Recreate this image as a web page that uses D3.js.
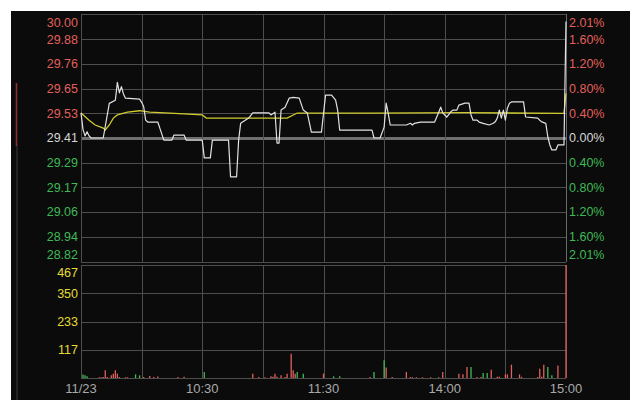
<!DOCTYPE html>
<html>
<head>
<meta charset="utf-8">
<script src="https://cdn.jsdelivr.net/npm/d3@7/dist/d3.min.js"></script>
<style>
  html, body { margin: 0; padding: 0; background: #ffffff; }
  svg { display: block; }
  text { font-family: "Liberation Sans", Arial, sans-serif; }
</style>
</head>
<body>
<svg id="chart" width="641" height="412"></svg>
<script>
// ---------- DATA ----------
const prevClose = 29.41;
const priceTickLabels = ["30.00", "29.88", "29.76", "29.65", "29.53", "29.41", "29.29", "29.17", "29.06", "28.94", "28.82"];
const pctTickLabels   = ["2.01%", "1.60%", "1.20%", "0.80%", "0.40%", "0.00%", "0.40%", "0.80%", "1.20%", "1.60%", "2.01%"];
const pctTickValues   = [2.01, 1.6, 1.2, 0.8, 0.4, 0, -0.4, -0.8, -1.2, -1.6, -2.01];
const volTickLabels   = ["467", "350", "233", "117"];
const volTickValues   = [467, 350, 233, 117];
const timeLabels      = ["11/23", "10:30", "11:30", "14:00", "15:00"];
const timeLabelIdx    = [0, 60, 120, 180, 240];

// price line (minute index, price)
const priceIdx = [0,1,2,3,4,5,11,14,17,18,19,20,21,22,29,30,31,32,33,38,39,41,45,46,51,52,60,61,64,65,73,74,77,78,79,83,85,93,94,96,97,98,99,101,103,105,108,110,112,114,119,121,124,126,127,128,144,145,148,150,151,152,153,161,163,164,165,168,175,177,178,179,181,183,184,186,187,190,192,193,194,196,197,199,202,204,205,206,207,208,209,210,211,212,213,219,220,226,227,228,230,231,232,233,235,236,239,240];
const priceVal = [29.53,29.45,29.42,29.44,29.42,29.41,29.41,29.575,29.59,29.675,29.625,29.655,29.62,29.60,29.595,29.58,29.56,29.495,29.486,29.486,29.457,29.40,29.40,29.424,29.424,29.40,29.40,29.315,29.315,29.40,29.40,29.225,29.225,29.40,29.48,29.505,29.53,29.53,29.52,29.533,29.386,29.386,29.543,29.557,29.60,29.604,29.60,29.543,29.529,29.438,29.438,29.614,29.614,29.59,29.543,29.448,29.448,29.41,29.41,29.462,29.576,29.529,29.472,29.472,29.48,29.472,29.48,29.486,29.486,29.533,29.557,29.53,29.51,29.535,29.543,29.543,29.567,29.576,29.576,29.52,29.495,29.495,29.486,29.48,29.472,29.48,29.487,29.505,29.543,29.505,29.543,29.495,29.552,29.576,29.582,29.582,29.51,29.505,29.495,29.487,29.48,29.416,29.377,29.353,29.353,29.377,29.377,29.965];

// average price line (minute index, price)
const avgIdx = [0,4,7,11,12,14,16,18,23,29,34,44,60,62,102,107,145,190,239,240];
const avgVal = [29.529,29.495,29.472,29.457,29.448,29.472,29.505,29.52,29.533,29.54,29.533,29.529,29.52,29.505,29.505,29.529,29.529,29.531,29.527,29.623];

// volume bars (minute index, volume, direction 1 = up/red, -1 = down/green)
const volIdx = [1,2,3,9,10,11,12,13,15,16,17,18,19,22,23,27,29,31,34,36,38,48,51,61,85,88,91,94,95,96,97,99,101,102,104,105,106,107,110,120,125,128,143,145,150,151,154,161,163,164,166,169,173,177,179,187,189,191,193,196,198,199,201,203,206,207,210,211,213,217,218,226,227,228,229,231,233,236,240];
const volVal = [14,11,7,3,3,4,32,4,11,18,32,18,4,3,3,15,11,4,8,4,6,4,5,25,18,4,3,7,5,18,5,11,4,18,100,32,18,25,18,18,7,7,4,25,73,43,4,25,4,3,3,3,3,3,25,18,15,45,45,4,4,21,21,34,5,5,15,15,55,15,5,4,38,5,55,45,11,52,467];
const volDir = [-1,-1,-1,1,1,1,1,1,1,1,1,1,1,1,1,-1,-1,1,1,1,1,1,1,-1,1,1,1,1,1,1,1,1,1,1,1,1,1,-1,-1,1,-1,-1,1,-1,-1,1,1,1,1,1,1,1,1,1,1,1,1,1,-1,1,1,-1,-1,1,1,1,1,1,1,1,1,1,1,1,1,-1,-1,1,1];

// ---------- LAYOUT ----------
const svg = d3.select("#chart");
const L = 81, R = 566;
const pTop = 14, pBot = 262;
const vTop = 265, vBot = 378;

const x = d3.scaleLinear().domain([0, 240]).range([L, R]);
const yPct = d3.scaleLinear().domain([-2.01, 2.01]).range([pBot, pTop]);
const yPrice = d3.scaleLinear().domain([prevClose * (1 - 0.0201), prevClose * (1 + 0.0201)]).range([pBot, pTop]);
const yVol = d3.scaleLinear().domain([0, 467]).range([vBot, vTop]);

const RED = "#e0605c", GREEN = "#3fb957", NEUTRAL = "#cfcfcf", YEL = "#e4dc34", GRID = "#4e4e4e";

// background
svg.append("rect").attr("x", 11).attr("y", 11).attr("width", 619).attr("height", 389).attr("fill", "#0b0b0b");

// left scroll marker
svg.append("line").attr("x1", 17).attr("x2", 17).attr("y1", 145).attr("y2", 400).attr("stroke", "#3a3a3a").attr("stroke-width", 1);
svg.append("line").attr("x1", 16.5).attr("x2", 16.5).attr("y1", 83).attr("y2", 146).attr("stroke", "#8a3030").attr("stroke-width", 1.6);

const g = svg.append("g");

// horizontal grid: price panel
g.selectAll(".hgp").data(pctTickValues).join("line")
  .attr("x1", L).attr("x2", R)
  .attr("y1", d => Math.round(yPct(d)) + 0.5).attr("y2", d => Math.round(yPct(d)) + 0.5)
  .attr("stroke", d => d === 0 ? "#6f6f6f" : GRID)
  .attr("stroke-width", d => d === 0 ? 3 : 1);

// horizontal grid: volume panel
g.selectAll(".hgv").data([467, 350, 233, 117, 0]).join("line")
  .attr("x1", L).attr("x2", R)
  .attr("y1", d => Math.round(yVol(d)) + 0.5).attr("y2", d => Math.round(yVol(d)) + 0.5)
  .attr("stroke", GRID).attr("stroke-width", 1);

// vertical grid
const vTicks = d3.range(0, 241, 30);
g.selectAll(".vgp").data(vTicks).join("line")
  .attr("x1", d => Math.round(x(d)) + 0.5).attr("x2", d => Math.round(x(d)) + 0.5)
  .attr("y1", pTop).attr("y2", pBot)
  .attr("stroke", d => (d === 240 ? "#6a6a6a" : GRID)).attr("stroke-width", 1);
g.selectAll(".vgv").data(vTicks).join("line")
  .attr("x1", d => Math.round(x(d)) + 0.5).attr("x2", d => Math.round(x(d)) + 0.5)
  .attr("y1", vTop).attr("y2", vBot)
  .attr("stroke", GRID).attr("stroke-width", 1);

// left price labels
const labelY = (i, v) => {
  const y = yPct(v);
  if (i === 0) return y + 9;
  if (i === pctTickValues.length - 1) return y - 7;
  return y;
};
const labColor = v => v > 0 ? RED : (v < 0 ? GREEN : "#d6d6d6");
g.selectAll(".pl").data(pctTickValues).join("text")
  .attr("x", 78).attr("y", (d, i) => labelY(i, d))
  .attr("dy", "0.35em").attr("text-anchor", "end")
  .attr("font-size", 12.5).attr("fill", d => labColor(d))
  .text((d, i) => priceTickLabels[i]);
g.selectAll(".pr").data(pctTickValues).join("text")
  .attr("x", 569).attr("y", (d, i) => labelY(i, d))
  .attr("dy", "0.35em").attr("text-anchor", "start")
  .attr("font-size", 12.5).attr("fill", d => labColor(d))
  .text((d, i) => pctTickLabels[i]);

// volume labels
g.selectAll(".vl").data(volTickValues).join("text")
  .attr("x", 78).attr("y", (d, i) => i === 0 ? yVol(d) + 8 : yVol(d))
  .attr("dy", "0.35em").attr("text-anchor", "end")
  .attr("font-size", 12.5).attr("fill", YEL)
  .text((d, i) => volTickLabels[i]);

// time labels
g.selectAll(".tl").data(timeLabelIdx).join("text")
  .attr("x", d => x(d)).attr("y", 388)
  .attr("dy", "0.35em").attr("text-anchor", "middle")
  .attr("font-size", 13).attr("fill", "#a9a9a9")
  .text((d, i) => timeLabels[i]);

// volume bars
const bars = volIdx.map((d, i) => ({ i: d, v: volVal[i], dir: volDir[i] }));
g.selectAll(".vb").data(bars).join("line")
  .attr("x1", d => x(d.i)).attr("x2", d => x(d.i))
  .attr("y1", yVol(0)).attr("y2", d => yVol(d.v))
  .attr("stroke", d => d.dir > 0 ? RED : GREEN)
  .attr("stroke-width", 1.3);

// average line
const avgPts = avgIdx.map((d, i) => [d, avgVal[i]]);
g.append("path").datum(avgPts)
  .attr("fill", "none").attr("stroke", "#cfcb2e").attr("stroke-width", 1.3)
  .attr("d", d3.line().x(d => x(d[0])).y(d => yPrice(d[1])));

// price line
const pricePts = priceIdx.map((d, i) => [d, priceVal[i]]);
g.append("path").datum(pricePts)
  .attr("fill", "none").attr("stroke", "#e2e2e2").attr("stroke-width", 1.2)
  .attr("stroke-linejoin", "round")
  .attr("d", d3.line().x(d => x(d[0])).y(d => yPrice(d[1])));
</script>
</body>
</html>
